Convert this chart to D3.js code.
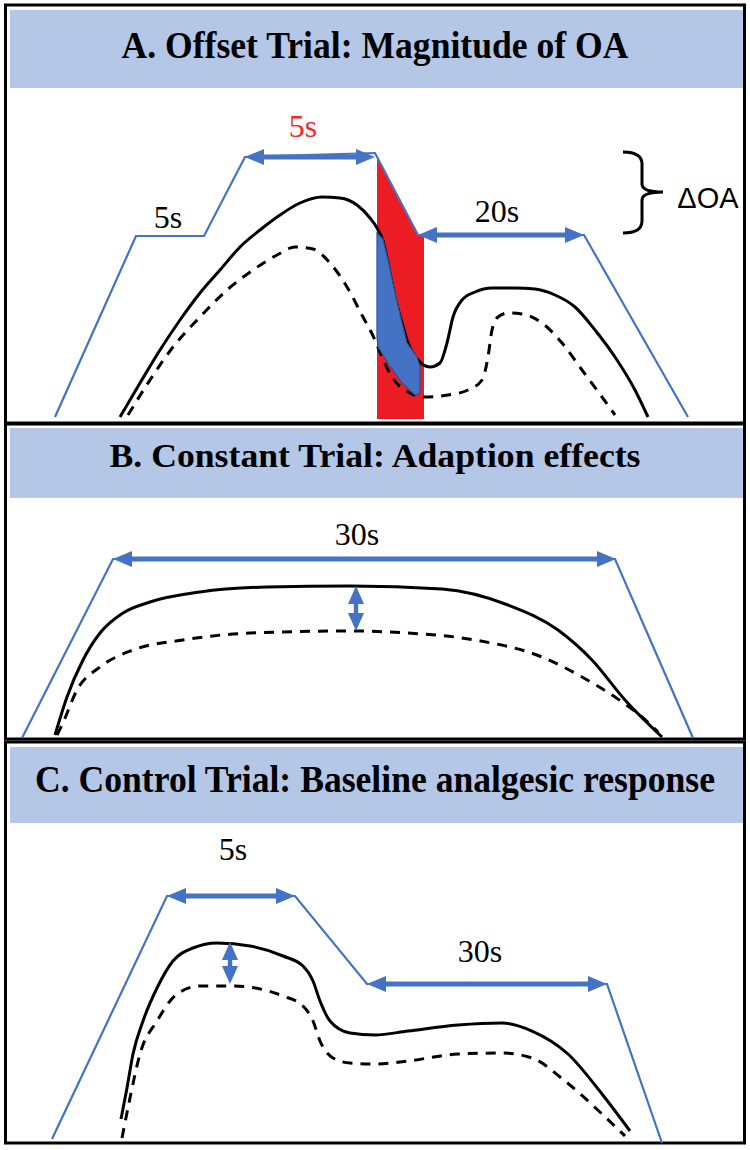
<!DOCTYPE html>
<html>
<head>
<meta charset="utf-8">
<script src="https://cdn.jsdelivr.net/npm/d3@7"></script>
<style>
  html, body { margin: 0; padding: 0; background: #fff; }
  svg { display: block; }
</style>
</head>
<body>
<div id="chart"></div>
<script>
// Panel titles
const titles = [
  'A. Offset Trial: Magnitude of OA',
  'B. Constant Trial: Adaption effects',
  'C. Control Trial: Baseline analgesic response'
];

// Values: [position along trial, height above panel floor]
// Panel A - offset trial
const stimA = [[55, 6], [136, 187], [204, 187], [245, 266], [375, 270], [418, 188], [584, 188], [688, 6]];
const solidA = [[120, 6], [140, 40], [160, 73], [180, 103], [200, 130], [220, 153], [240, 176], [260, 193],
  [280, 208], [300, 220], [322, 226], [340, 225], [357, 218], [370, 205], [377, 195], [383, 182], [388, 160],
  [395, 126], [402, 100], [408, 80], [418, 63], [430, 56], [440, 60], [447, 80], [453, 106], [462, 123],
  [475, 131], [492, 135], [515, 135], [535, 134], [555, 128], [575, 116], [595, 93], [615, 66], [635, 33], [648, 6]];
const dashedA = [[128, 8], [150, 43], [173, 76], [200, 106], [227, 133], [253, 153], [277, 168], [295, 176],
  [313, 174], [330, 160], [347, 136], [363, 106], [375, 83], [382, 66], [392, 46], [408, 31], [425, 26],
  [448, 28], [468, 33], [482, 43], [488, 66], [492, 93], [498, 106], [508, 110], [522, 109], [542, 100],
  [562, 80], [582, 53], [602, 26], [615, 8]];
const offsetA = [[377, 265], [419, 187], [424, 187], [424, 4], [377, 4]];
const oaAreaA = [[377, 190], [383, 184], [388, 163], [395, 130], [402, 100], [407, 80], [417, 66], [420, 56],
  [420, 30], [415, 28], [402, 40], [388, 60], [378, 76], [377, 86]];
const spansA = [[245, 375, 266], [418, 584, 188]];
const braceA = [623, 642, 663, 271, 231, 190];

// Panel B - constant trial
const stimB = [[22, 1], [113, 180], [615, 180], [693, 1]];
const solidB = [[55, 4], [67, 42], [83, 79], [100, 106], [123, 126], [150, 137], [200, 147], [267, 152],
  [350, 153], [442, 150], [508, 134], [558, 109], [592, 79], [625, 39], [662, 2]];
const dashedB = [[57, 4], [62, 14], [77, 49], [100, 72], [133, 89], [183, 99], [250, 106], [350, 108],
  [408, 106], [475, 99], [542, 82], [582, 62], [615, 42], [642, 22], [658, 7]];
const spansB = [[113, 616, 180]];
const gapB = [356, 153, 108];

// Panel C - control trial
const stimC = [[52, 4], [167, 247], [295, 247], [367, 159], [607, 159], [662, 0]];
const solidC = [[121, 24], [127, 55], [133, 89], [143, 122], [157, 155], [173, 182], [193, 195], [217, 200],
  [250, 197], [283, 187], [303, 177], [313, 162], [320, 142], [330, 122], [350, 110], [375, 108], [408, 112],
  [458, 118], [502, 120], [532, 112], [568, 89], [602, 49], [630, 12]];
const dashedC = [[122, 5], [130, 45], [140, 89], [157, 122], [177, 149], [200, 157], [233, 157], [283, 147],
  [303, 137], [313, 122], [320, 102], [333, 85], [350, 80], [375, 79], [408, 82], [458, 89], [502, 90],
  [532, 85], [565, 62], [602, 29], [625, 7]];
const spansC = [[167, 295, 247], [367, 607, 159]];
const gapC = [230, 201, 159];

const W = 750, H = 1150;
const BLUE = '#4472C4', BAND = '#B4C7E7', RED = '#EC1C24';
const SERIF = "'Liberation Serif'";
const SANS = "'Liberation Sans'";

const svg = d3.select('#chart').append('svg')
  .attr('width', W).attr('height', H)
  .attr('viewBox', `0 0 ${W} ${H}`);

const x = d3.scaleLinear().domain([0, 750]).range([0, 750]);

const panels = [
  {top: 5, bottom: 423, band: [10, 88], titleY: 58, titleSize: 37, titleLen: 507},
  {top: 424, bottom: 739, band: [428, 498], titleY: 467, titleSize: 34, titleLen: 531},
  {top: 742, bottom: 1143, band: [747, 823], titleY: 792, titleSize: 37, titleLen: 680}
];
panels.forEach(p => {
  p.y = d3.scaleLinear().domain([0, 300]).range([p.bottom, p.bottom - 300]);
});

const line = y => d3.line().x(d => x(d[0])).y(d => y(d[1]));
const smooth = y => d3.line().x(d => x(d[0])).y(d => y(d[1])).curve(d3.curveMonotoneX);

// horizontal double-headed arrow
function spanArrow(g, y, s) {
  const x1 = x(s[0]), x2 = x(s[1]), yy = y(s[2]);
  const L = 19, h = 8, w = 2.6;
  const pts = [[x1, yy], [x1 + L, yy - h], [x1 + L, yy - w], [x2 - L, yy - w], [x2 - L, yy - h], [x2, yy],
    [x2 - L, yy + h], [x2 - L, yy + w], [x1 + L, yy + w], [x1 + L, yy + h]];
  g.append('polygon').attr('points', pts.map(p => p.join(',')).join(' ')).attr('fill', BLUE);
}

// vertical double-headed arrow
function gapArrow(g, y, a) {
  const xx = x(a[0]), y1 = y(a[1]), y2 = y(a[2]);
  const L = 18, h = 8, w = 2.2;
  const pts = [[xx, y1], [xx + h, y1 + L], [xx + w, y1 + L], [xx + w, y2 - L], [xx + h, y2 - L], [xx, y2],
    [xx - h, y2 - L], [xx - w, y2 - L], [xx - w, y1 + L], [xx - h, y1 + L]];
  g.append('polygon').attr('points', pts.map(p => p.join(',')).join(' ')).attr('fill', BLUE);
}

function label(g, text, cx, baseline, opts = {}) {
  g.append('text')
    .attr('x', cx).attr('y', baseline)
    .attr('text-anchor', 'middle')
    .style('font-family', opts.family || SERIF)
    .style('font-size', (opts.size || 32) + 'px')
    .attr('fill', opts.color || '#000')
    .text(text);
}

function curves(g, y, stim, solid, dashed) {
  g.append('path').datum(stim).attr('d', line(y))
    .attr('fill', 'none').attr('stroke', BLUE).attr('stroke-width', 2.2);
  g.append('path').datum(dashed).attr('d', smooth(y))
    .attr('fill', 'none').attr('stroke', '#000').attr('stroke-width', 3)
    .attr('stroke-dasharray', '10,8');
  g.append('path').datum(solid).attr('d', smooth(y))
    .attr('fill', 'none').attr('stroke', '#000').attr('stroke-width', 3);
}

// frames and title bands
panels.forEach((p, i) => {
  const g = svg.append('g');
  g.append('rect')
    .attr('x', 10).attr('y', p.band[0]).attr('width', 734).attr('height', p.band[1] - p.band[0])
    .attr('fill', BAND);
  g.append('rect')
    .attr('x', 5.5).attr('y', p.top).attr('width', 739).attr('height', p.bottom - p.top)
    .attr('fill', 'none').attr('stroke', '#000').attr('stroke-width', 3);
  g.append('text')
    .attr('x', 375).attr('y', p.titleY)
    .attr('text-anchor', 'middle')
    .style('font-family', SERIF)
    .style('font-weight', 'bold')
    .style('font-size', p.titleSize + 'px')
    .attr('textLength', p.titleLen)
    .attr('lengthAdjust', 'spacingAndGlyphs')
    .text(titles[i]);
});

// Panel A
{
  const y = panels[0].y;
  const g = svg.append('g');
  g.append('polygon').attr('points', offsetA.map(d => [x(d[0]), y(d[1])].join(',')).join(' '))
    .attr('fill', RED);
  curves(g, y, stimA, solidA, dashedA);
  g.append('path').datum(oaAreaA).attr('d', line(y).curve(d3.curveLinearClosed))
    .attr('fill', BLUE).attr('stroke', '#2F528F').attr('stroke-width', 1.2);
  spansA.forEach(s => spanArrow(g, y, s));

  const [bx0, bx1, bTip, bTop, bMid, bBot] = braceA;
  const p = d3.path();
  p.moveTo(x(bx0), y(bTop));
  p.quadraticCurveTo(x(bx1), y(bTop), x(bx1), y(bTop) + 12);
  p.lineTo(x(bx1), y(bMid) - 8);
  p.quadraticCurveTo(x(bx1), y(bMid), x(bTip), y(bMid));
  p.quadraticCurveTo(x(bx1), y(bMid), x(bx1), y(bMid) + 8);
  p.lineTo(x(bx1), y(bBot) - 12);
  p.quadraticCurveTo(x(bx1), y(bBot), x(bx0), y(bBot));
  g.append('path').attr('d', p.toString())
    .attr('fill', 'none').attr('stroke', '#000').attr('stroke-width', 3);

  label(g, '5s', 303, 137, {color: '#EE2B2B'});
  label(g, '5s', 168, 228);
  label(g, '20s', 497, 222);
  label(g, 'ΔOA', 708, 208, {family: SANS, size: 29});
}

// Panel B
{
  const y = panels[1].y;
  const g = svg.append('g');
  curves(g, y, stimB, solidB, dashedB);
  spansB.forEach(s => spanArrow(g, y, s));
  gapArrow(g, y, gapB);
  label(g, '30s', 357, 545);
}

// Panel C
{
  const y = panels[2].y;
  const g = svg.append('g');
  curves(g, y, stimC, solidC, dashedC);
  spansC.forEach(s => spanArrow(g, y, s));
  gapArrow(g, y, gapC);
  label(g, '5s', 233, 860);
  label(g, '30s', 480, 962);
}
</script>
</body>
</html>
